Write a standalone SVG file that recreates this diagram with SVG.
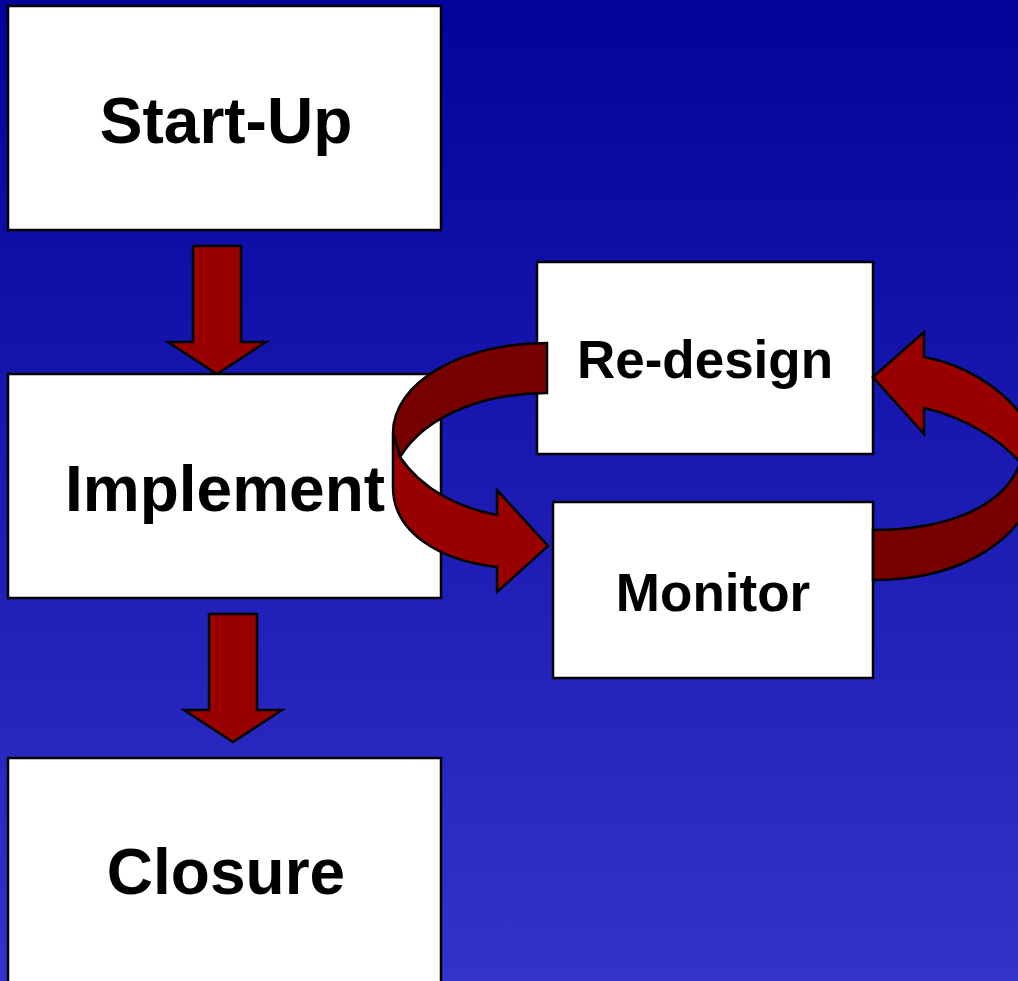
<svg xmlns="http://www.w3.org/2000/svg" width="1018" height="981" viewBox="0 0 1018 981">
<defs>
<linearGradient id="bg" x1="0" y1="0" x2="0" y2="1">
<stop offset="0" stop-color="#03039b"/>
<stop offset="1" stop-color="#3333cc"/>
</linearGradient>
</defs>
<style>
.box{fill:#fff;stroke:#000;stroke-width:2.5}
.lbl{font-family:"Liberation Sans",Arial,sans-serif;font-weight:bold;fill:#000;text-anchor:middle}
.big{font-size:64px}
.mid{font-size:53px}
.arr{fill:#990000;stroke:#000;stroke-width:2.5;stroke-linejoin:miter}
.dark{fill:#770000;stroke:#000;stroke-width:2.5}
</style>
<rect x="0" y="0" width="1018" height="981" fill="url(#bg)"/>
<g id="connectors">
<path class="arr" d="M193,246 L241,246 L241,342 L266,342 L217,374 L168,342 L193,342 Z"/>
<path class="arr" d="M209,614 L257,614 L257,710 L282,710 L233,742 L184,710 L209,710 Z"/>
</g>
<g id="startup">
<rect class="box" x="8" y="6" width="433" height="224"/>
<text class="lbl big" x="226" y="143">Start-Up</text>
</g>
<g id="implement">
<rect class="box" x="8" y="374" width="433" height="224"/>
<text class="lbl big" x="225" y="511">Implement</text>
</g>
<g id="closure">
<rect class="box" x="8" y="758" width="433" height="240"/>
<text class="lbl big" x="226" y="894">Closure</text>
</g>
<g id="redesign">
<rect class="box" x="537" y="262" width="336" height="192"/>
<text class="lbl mid" x="705" y="378">Re-design</text>
</g>
<g id="monitor">
<rect class="box" x="553" y="502" width="320" height="176"/>
<text class="lbl mid" x="713" y="611">Monitor</text>
</g>
<g id="loop-connectors">
<path class="dark" d="M547,343 L547,393 C490,393 428,412 400,457 L393,433 C393,382 462,343 547,343 Z"/>
<path class="arr" d="M393,433 L400,457 C422,490 460,508 497,515 L497,490 L548,546 L497,592 L497,567 C438,560 393,532 393,487 Z"/>
<path class="dark" d="M873,530 C948,530 1005,506 1020,463 L1040,463 C1035,540 960,580 873,580 Z"/>
<path class="arr" d="M873,377 L924,332 L924,357 C962,364 1000,386 1022,416 L1040,470 L1019,461 C1000,440 965,417 924,408 L924,434 Z"/>
</g>
</svg>
